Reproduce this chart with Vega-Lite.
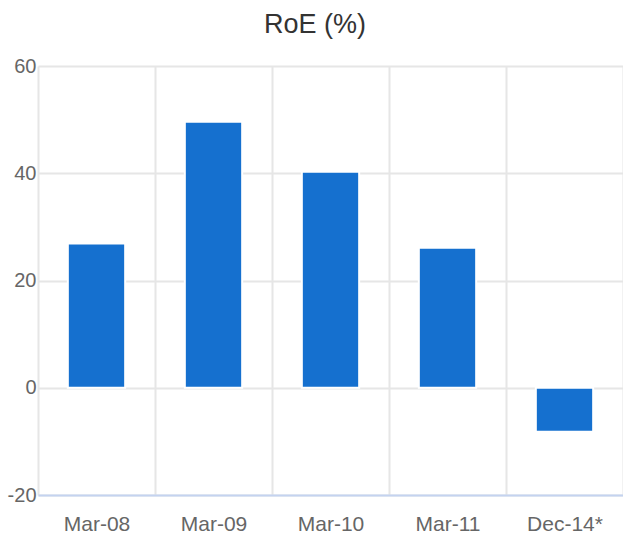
{
  "$schema": "https://vega.github.io/schema/vega-lite/v6.json",
  "width": 585,
  "height": 429,
  "autosize": {"type": "none"},
  "padding": {"left": 38, "top": 66, "right": 0, "bottom": 41},
  "background": "white",
  "title": {
    "text": "RoE (%)",
    "fontSize": 27,
    "font": "Liberation Sans",
    "fontWeight": "normal",
    "color": "#333333",
    "anchor": "middle",
    "frame": "bounds",
    "offset": 17
  },
  "data": {
    "values": [
      {"period": "Mar-08", "roe": 26.9},
      {"period": "Mar-09", "roe": 49.6},
      {"period": "Mar-10", "roe": 40.3},
      {"period": "Mar-11", "roe": 26.1},
      {"period": "Dec-14*", "roe": -8.2}
    ]
  },
  "mark": {"type": "bar", "color": "#1570CF", "width": {"band": 0.49}, "stroke": "white", "strokeWidth": 2},
  "encoding": {
    "x": {
      "field": "period",
      "type": "nominal",
      "sort": null,
      "scale": {"paddingInner": 0, "paddingOuter": 0},
      "axis": {
        "title": null,
        "labelAngle": 0,
        "labelFont": "Liberation Sans",
        "labelFontSize": 21,
        "labelColor": "#666666",
        "labelPadding": 18,
        "ticks": false,
        "tickBand": "extent",
        "grid": true,
        "gridColor": "#e6e6e6",
        "gridWidth": 2,
        "domainColor": "#c4d3f0",
        "domainWidth": 2,
        "zindex": 1
      }
    },
    "y": {
      "field": "roe",
      "type": "quantitative",
      "scale": {"domain": [-20, 60], "nice": false, "zero": true},
      "axis": {
        "title": null,
        "values": [-20, 0, 20, 40, 60],
        "labelExpr": "'' + datum.value",
        "labelFont": "Liberation Sans",
        "labelFontSize": 20,
        "labelColor": "#666666",
        "labelPadding": 2,
        "ticks": false,
        "domain": false,
        "grid": true,
        "gridColor": "#e6e6e6",
        "gridWidth": 2
      }
    }
  },
  "config": {"view": {"stroke": null}}
}
